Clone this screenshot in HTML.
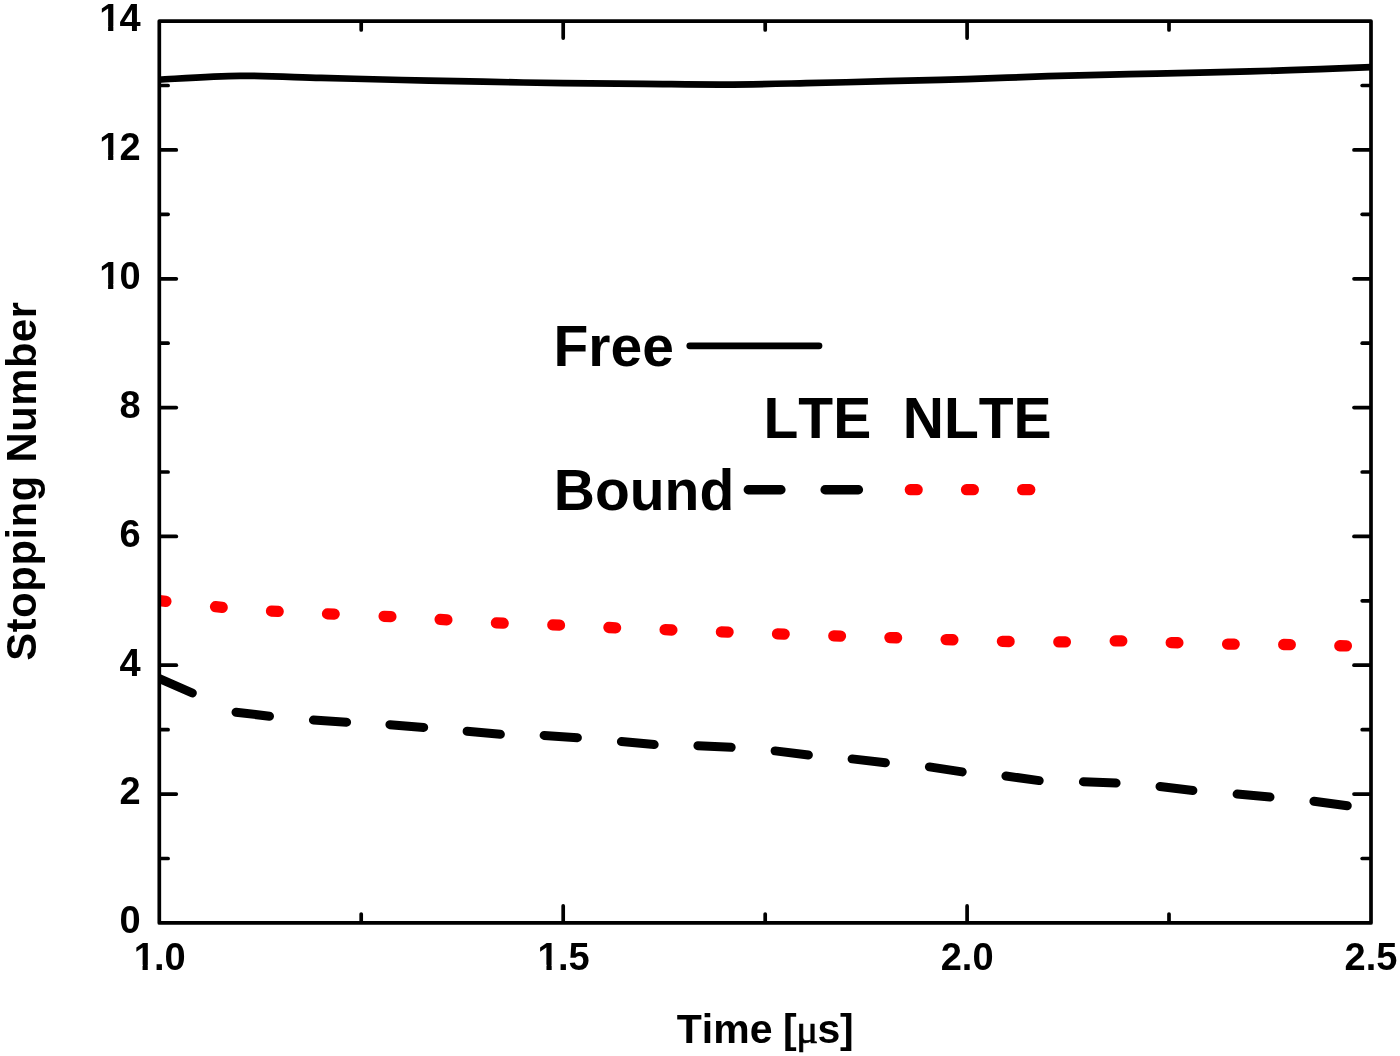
<!DOCTYPE html>
<html lang="en"><head><meta charset="utf-8"><title>Stopping Number vs Time</title>
<style>html,body{margin:0;padding:0;background:#fff;}body{width:1400px;height:1056px;overflow:hidden;}svg{display:block;}text{font-family:"Liberation Sans",sans-serif;font-weight:bold;fill:#000;font-kerning:none;}.tk{font-size:38px;}.ti{font-size:41px;}.ty{font-size:41.7px;letter-spacing:0.62px;word-spacing:0.4px;}.lg{font-size:57px;}.mu{font-family:"Liberation Serif","DejaVu Serif",serif;font-weight:normal;stroke:#000;stroke-width:0.7px;}</style></head><body>
<svg width="1400" height="1056" viewBox="0 0 1400 1056">
<rect x="0" y="0" width="1400" height="1056" fill="#fff"/>
<g stroke="#000" stroke-width="3.7" stroke-linecap="round" fill="none">
<line x1="160.8" y1="858.5" x2="168.1" y2="858.5"/>
<line x1="1369.5" y1="858.5" x2="1362.2" y2="858.5"/>
<line x1="160.8" y1="794.1" x2="176.3" y2="794.1"/>
<line x1="1369.5" y1="794.1" x2="1354.0" y2="794.1"/>
<line x1="160.8" y1="729.7" x2="168.1" y2="729.7"/>
<line x1="1369.5" y1="729.7" x2="1362.2" y2="729.7"/>
<line x1="160.8" y1="665.2" x2="176.3" y2="665.2"/>
<line x1="1369.5" y1="665.2" x2="1354.0" y2="665.2"/>
<line x1="160.8" y1="600.8" x2="168.1" y2="600.8"/>
<line x1="1369.5" y1="600.8" x2="1362.2" y2="600.8"/>
<line x1="160.8" y1="536.4" x2="176.3" y2="536.4"/>
<line x1="1369.5" y1="536.4" x2="1354.0" y2="536.4"/>
<line x1="160.8" y1="472.0" x2="168.1" y2="472.0"/>
<line x1="1369.5" y1="472.0" x2="1362.2" y2="472.0"/>
<line x1="160.8" y1="407.6" x2="176.3" y2="407.6"/>
<line x1="1369.5" y1="407.6" x2="1354.0" y2="407.6"/>
<line x1="160.8" y1="343.2" x2="168.1" y2="343.2"/>
<line x1="1369.5" y1="343.2" x2="1362.2" y2="343.2"/>
<line x1="160.8" y1="278.8" x2="176.3" y2="278.8"/>
<line x1="1369.5" y1="278.8" x2="1354.0" y2="278.8"/>
<line x1="160.8" y1="214.3" x2="168.1" y2="214.3"/>
<line x1="1369.5" y1="214.3" x2="1362.2" y2="214.3"/>
<line x1="160.8" y1="149.9" x2="176.3" y2="149.9"/>
<line x1="1369.5" y1="149.9" x2="1354.0" y2="149.9"/>
<line x1="160.8" y1="85.5" x2="168.1" y2="85.5"/>
<line x1="1369.5" y1="85.5" x2="1362.2" y2="85.5"/>
<line x1="361.2" y1="921.4" x2="361.2" y2="914.1"/>
<line x1="361.2" y1="22.6" x2="361.2" y2="29.9"/>
<line x1="563.2" y1="921.4" x2="563.2" y2="905.9"/>
<line x1="563.2" y1="22.6" x2="563.2" y2="38.1"/>
<line x1="765.2" y1="921.4" x2="765.2" y2="914.1"/>
<line x1="765.2" y1="22.6" x2="765.2" y2="29.9"/>
<line x1="967.1" y1="921.4" x2="967.1" y2="905.9"/>
<line x1="967.1" y1="22.6" x2="967.1" y2="38.1"/>
<line x1="1169.0" y1="921.4" x2="1169.0" y2="914.1"/>
<line x1="1169.0" y1="22.6" x2="1169.0" y2="29.9"/>
</g>
<defs><clipPath id="plotclip"><rect x="159.3" y="21.1" width="1211.7" height="901.8"/></clipPath></defs>
<g clip-path="url(#plotclip)">
<path fill="none" stroke="#000" stroke-width="6.7" stroke-linejoin="round" d="M159.3,79.60 C172.8,78.98 213.1,76.18 240.0,75.90 C266.9,75.62 294.0,77.22 321.0,77.90 C348.0,78.58 375.0,79.37 402.0,80.00 C429.0,80.63 456.2,81.17 483.0,81.70 C509.8,82.23 536.2,82.83 563.0,83.20 C589.8,83.57 617.0,83.67 644.0,83.90 C671.0,84.13 698.0,84.72 725.0,84.60 C752.0,84.48 779.2,83.77 806.0,83.20 C832.8,82.63 859.2,81.87 886.0,81.20 C912.8,80.53 940.0,80.03 967.0,79.20 C994.0,78.37 1021.0,77.03 1048.0,76.20 C1075.0,75.37 1102.0,74.83 1129.0,74.20 C1156.0,73.57 1183.2,73.07 1210.0,72.40 C1236.8,71.73 1263.2,71.07 1290.0,70.20 C1316.8,69.33 1357.5,67.70 1371.0,67.20"/>
<g stroke="#ff0000" stroke-width="11.3" stroke-linecap="round" fill="none">
<line x1="159.2" y1="600.59" x2="165.9" y2="601.31"/>
<line x1="215.5" y1="606.74" x2="222.2" y2="607.36"/>
<line x1="271.5" y1="611.04" x2="278.2" y2="611.46"/>
<line x1="327.5" y1="613.80" x2="334.2" y2="614.10"/>
<line x1="384.1" y1="616.28" x2="390.9" y2="616.62"/>
<line x1="440.1" y1="619.45" x2="446.9" y2="619.85"/>
<line x1="496.4" y1="622.89" x2="503.2" y2="623.21"/>
<line x1="552.8" y1="624.91" x2="559.5" y2="625.19"/>
<line x1="608.9" y1="627.51" x2="615.6" y2="627.79"/>
<line x1="665.1" y1="629.72" x2="671.9" y2="629.98"/>
<line x1="721.4" y1="631.83" x2="728.1" y2="632.07"/>
<line x1="777.5" y1="633.83" x2="784.2" y2="634.07"/>
<line x1="833.8" y1="635.94" x2="840.5" y2="636.16"/>
<line x1="889.9" y1="637.54" x2="896.6" y2="637.76"/>
<line x1="946.1" y1="639.54" x2="952.9" y2="639.76"/>
<line x1="1002.4" y1="641.38" x2="1009.1" y2="641.52"/>
<line x1="1058.8" y1="641.96" x2="1065.4" y2="641.94"/>
<line x1="1115.2" y1="640.93" x2="1121.8" y2="640.97"/>
<line x1="1171.2" y1="642.55" x2="1177.9" y2="642.75"/>
<line x1="1227.6" y1="644.09" x2="1234.2" y2="644.21"/>
<line x1="1283.7" y1="644.50" x2="1290.3" y2="644.60"/>
<line x1="1339.8" y1="645.77" x2="1346.4" y2="645.93"/>
</g>
<g stroke="#000" stroke-width="9" stroke-linecap="round" fill="none">
<line x1="159.3" y1="678.5" x2="192.3" y2="693.0"/>
<line x1="236.0" y1="712.2" x2="269.5" y2="716.2"/>
<line x1="313.4" y1="720.1" x2="346.6" y2="722.2"/>
<line x1="389.9" y1="724.7" x2="423.7" y2="727.4"/>
<line x1="467.1" y1="731.3" x2="500.4" y2="734.3"/>
<line x1="544.1" y1="735.4" x2="577.4" y2="737.7"/>
<line x1="621.4" y1="741.6" x2="654.2" y2="744.6"/>
<line x1="697.9" y1="745.7" x2="731.2" y2="747.3"/>
<line x1="775.1" y1="750.9" x2="808.4" y2="755.0"/>
<line x1="852.1" y1="758.9" x2="885.4" y2="762.7"/>
<line x1="929.4" y1="766.9" x2="962.2" y2="771.9"/>
<line x1="1005.9" y1="776.0" x2="1039.2" y2="780.6"/>
<line x1="1083.4" y1="781.8" x2="1116.1" y2="783.0"/>
<line x1="1160.0" y1="786.5" x2="1192.9" y2="790.5"/>
<line x1="1237.1" y1="794.1" x2="1270.0" y2="797.1"/>
<line x1="1313.9" y1="801.3" x2="1347.3" y2="805.7"/>
</g>
</g>
<rect x="159.3" y="21.1" width="1211.7" height="901.8" fill="none" stroke="#000" stroke-width="3.7" stroke-linejoin="round"/>
<text class="tk" x="140.70" y="933.2" text-anchor="end">0</text>
<text class="tk" x="140.70" y="804.4" text-anchor="end">2</text>
<text class="tk" x="140.70" y="675.5" text-anchor="end">4</text>
<text class="tk" x="140.70" y="546.7" text-anchor="end">6</text>
<text class="tk" x="140.70" y="417.9" text-anchor="end">8</text>
<text class="tk" x="99.23" y="289.1">1<tspan dx="-0.8">0</tspan></text>
<text class="tk" x="99.23" y="160.2">1<tspan dx="-0.8">2</tspan></text>
<text class="tk" x="99.23" y="31.4">1<tspan dx="-0.8">4</tspan></text>
<text class="tk" x="133.69" y="970.3">1<tspan dx="-0.8">.0</tspan></text>
<text class="tk" x="537.59" y="970.3">1<tspan dx="-0.8">.5</tspan></text>
<text class="tk" x="940.69" y="970.3">2.0</text>
<text class="tk" x="1344.59" y="970.3">2.5</text>
<g fill="#fff"><rect x="99.97" y="283.49" width="8.13" height="6.68"/><rect x="113.32" y="284.20" width="6.79" height="5.97"/><rect x="99.97" y="154.66" width="8.13" height="6.68"/><rect x="113.32" y="155.37" width="6.79" height="5.97"/><rect x="99.97" y="25.83" width="8.13" height="6.68"/><rect x="113.32" y="26.54" width="6.79" height="5.97"/><rect x="134.43" y="964.73" width="8.13" height="6.68"/><rect x="147.77" y="965.44" width="6.79" height="5.97"/><rect x="538.33" y="964.73" width="8.13" height="6.68"/><rect x="551.67" y="965.44" width="6.79" height="5.97"/></g>
<text class="ti" x="676.8" y="1042.6">Time <tspan dx="-0.8">[</tspan><tspan class="mu" dx="-0.6">μ</tspan><tspan dx="-0.7">s</tspan><tspan dx="-0.3">]</tspan></text>
<text class="ty" transform="translate(35.6,481) rotate(-90)" text-anchor="middle">Stopping Number</text>
<text class="lg" x="553.5" y="366">Free</text>
<text class="lg" x="763.5" y="437.8">LTE</text>
<text class="lg" x="902.8" y="437.8">NLTE</text>
<text class="lg" x="553.8" y="509.5">Bound</text>
<line x1="689.8" y1="345.8" x2="819" y2="345.8" stroke="#000" stroke-width="6.8" stroke-linecap="round"/>
<g stroke="#000" stroke-width="9.4" stroke-linecap="round"><line x1="748.3" y1="489.8" x2="780.9" y2="489.8"/><line x1="825.1" y1="489.8" x2="858.4" y2="489.8"/></g>
<g stroke="#ff0000" stroke-width="11.2" stroke-linecap="round"><line x1="910.3" y1="489.7" x2="917.2" y2="489.7"/><line x1="966.5" y1="489.7" x2="973.4" y2="489.7"/><line x1="1022.6" y1="489.7" x2="1029.8" y2="489.7"/></g>
</svg></body></html>
